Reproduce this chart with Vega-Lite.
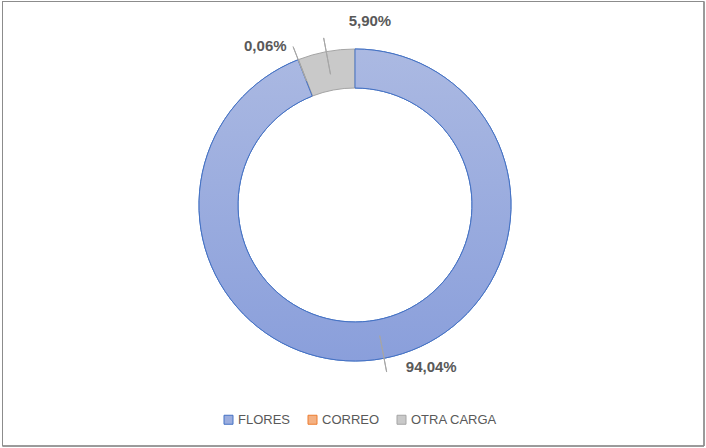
{
  "$schema": "https://vega.github.io/schema/vega-lite/v6.json",
  "width": 702,
  "height": 445,
  "autosize": {"type": "none"},
  "padding": {"left": 2, "top": 1, "right": 2, "bottom": 2},
  "background": "white",
  "config": {
    "view": {"stroke": null},
    "locale": {"number": {"decimal": ",", "thousands": ".", "grouping": [3], "currency": ["", " €"]}},
    "font": "Liberation Sans"
  },
  "data": {
    "values": [
      {"cat": "FLORES", "ord": 1, "value": 0.9404},
      {"cat": "CORREO", "ord": 2, "value": 0.0006},
      {"cat": "OTRA CARGA", "ord": 3, "value": 0.059}
    ]
  },
  "transform": [
    {"window": [{"op": "sum", "field": "value", "as": "cum"}], "sort": [{"field": "ord"}], "frame": [null, 0]},
    {"calculate": "datum.cum - datum.value / 2", "as": "mid"}
  ],
  "layer": [
    {
      "mark": {"type": "rect", "fill": null, "stroke": "#8c8c8c", "strokeWidth": 1},
      "encoding": {
        "x": {"value": 0.5}, "x2": {"value": "width"},
        "y": {"value": 0.5}, "y2": {"value": "height"}
      }
    },
    {
      "mark": {"type": "arc", "innerRadius": 117, "outerRadius": 156, "strokeWidth": 1, "x": {"expr": "width/2 + 2"}, "y": {"expr": "height/2 - 18.5"}},
      "encoding": {
        "theta": {"field": "value", "type": "quantitative", "stack": true, "scale": {"domain": [0, 1]}},
        "order": {"field": "ord", "type": "quantitative"},
        "fill": {
          "field": "cat", "type": "nominal",
          "scale": {"domain": ["FLORES", "CORREO", "OTRA CARGA"], "range": ["#9badde", "#f4b183", "#c9c9c9"]},
          "legend": {
            "title": null, "orient": "none", "direction": "horizontal",
            "legendX": 220, "legendY": 412,
            "symbolType": "square", "symbolSize": 81, "symbolStrokeWidth": 1,
            "labelFont": "Liberation Sans", "labelFontSize": 13, "labelColor": "#595959",
            "columnPadding": 15, "labelOffset": 3
          }
        },
        "stroke": {
          "field": "cat", "type": "nominal",
          "scale": {"domain": ["FLORES", "CORREO", "OTRA CARGA"], "range": ["#4472c4", "#ed7d31", "#a5a5a5"]},
          "legend": {
            "title": null, "orient": "none", "direction": "horizontal",
            "legendX": 220, "legendY": 412,
            "symbolType": "square", "symbolSize": 81, "symbolStrokeWidth": 1,
            "labelFont": "Liberation Sans", "labelFontSize": 13, "labelColor": "#595959",
            "columnPadding": 15, "labelOffset": 3
          }
        }
      }
    },
    {
      "mark": {
        "type": "arc", "innerRadius": 117, "outerRadius": 156, "strokeWidth": 1, "stroke": "#4472c4",
        "x": {"expr": "width/2 + 2"}, "y": {"expr": "height/2 - 18.5"},
        "fill": {"gradient": "linear", "x1": 0, "y1": 0, "x2": 0, "y2": 1, "stops": [{"offset": 0, "color": "#abb9e2"}, {"offset": 1, "color": "#8a9fdb"}]}
      },
      "encoding": {
        "theta": {"field": "value", "type": "quantitative", "stack": true, "scale": {"domain": [0, 1]}},
        "order": {"field": "ord", "type": "quantitative"},
        "opacity": {"condition": {"test": "datum.cat === 'FLORES'", "value": 1}, "value": 0}
      }
    },
    {
      "mark": {"type": "arc", "stroke": "#a6a6a6", "strokeWidth": 1, "fill": null, "x": {"expr": "width/2 + 2"}, "y": {"expr": "height/2 - 18.5"}},
      "encoding": {
        "theta": {"field": "mid", "type": "quantitative", "stack": false, "scale": {"domain": [0, 1]}},
        "theta2": {"field": "mid"},
        "radius": {"value": 133},
        "radius2": {"value": 170}
      }
    },
    {
      "transform": [{"filter": "datum.cat === 'FLORES'"}],
      "mark": {"type": "text", "font": "Liberation Sans", "fontSize": 15, "fontWeight": "bold", "color": "#595959", "align": "center", "baseline": "middle", "radius": 168, "dx": 45, "dy": -3, "x": {"expr": "width/2 + 2"}, "y": {"expr": "height/2 - 18.5"}},
      "encoding": {
        "theta": {"field": "mid", "type": "quantitative", "stack": false, "scale": {"domain": [0, 1]}},
        "text": {"field": "value", "type": "quantitative", "format": ".2%"}
      }
    },
    {
      "transform": [{"filter": "datum.cat === 'CORREO'"}],
      "mark": {"type": "text", "font": "Liberation Sans", "fontSize": 15, "fontWeight": "bold", "color": "#595959", "align": "center", "baseline": "middle", "radius": 175, "dx": -26, "dy": 4, "x": {"expr": "width/2 + 2"}, "y": {"expr": "height/2 - 18.5"}},
      "encoding": {
        "theta": {"field": "mid", "type": "quantitative", "stack": false, "scale": {"domain": [0, 1]}},
        "text": {"field": "value", "type": "quantitative", "format": ".2%"}
      }
    },
    {
      "transform": [{"filter": "datum.cat === 'OTRA CARGA'"}],
      "mark": {"type": "text", "font": "Liberation Sans", "fontSize": 15, "fontWeight": "bold", "color": "#595959", "align": "center", "baseline": "middle", "radius": 185, "dx": 49, "dy": -2, "x": {"expr": "width/2 + 2"}, "y": {"expr": "height/2 - 18.5"}},
      "encoding": {
        "theta": {"field": "mid", "type": "quantitative", "stack": false, "scale": {"domain": [0, 1]}},
        "text": {"field": "value", "type": "quantitative", "format": ".2%"}
      }
    }
  ]
}
